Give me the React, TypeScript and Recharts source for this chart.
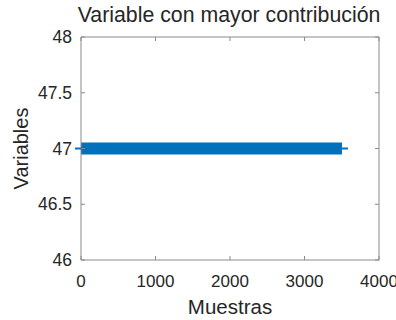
import React from "react";
import { ComposedChart, Line, XAxis, YAxis } from "recharts";

// muestras (índice) y variable con mayor contribución
const samples = [0, 3503];
const variableIdx = [47, 47];

const xTicks = [0, 1000, 2000, 3000, 4000];
const yTicks = [46, 46.5, 47, 47.5, 48];

const TITLE = "Variable con mayor contribución";
const X_LABEL = "Muestras";
const Y_LABEL = "Variables";

const BLUE = "#0072BD";
const TEXT = "#262626";
const AXIS = "#8a8a8a";
const FONT = "'Liberation Sans', Arial, sans-serif";

const data = samples.map((s, i) => ({ x: s, y: variableIdx[i] }));

const BottomTick = (props: any) => {
  const { x, y, payload } = props;
  return (
    <g>
      <line x1={x} y1={y} x2={x} y2={y - 4} stroke={AXIS} />
      <text x={x} y={y + 27} textAnchor="middle" fontSize={17} fill={TEXT} fontFamily={FONT}>
        {payload.value}
      </text>
    </g>
  );
};

const TopTick = (props: any) => {
  const { x, y } = props;
  return <line x1={x} y1={y} x2={x} y2={y + 4} stroke={AXIS} />;
};

const LeftTick = (props: any) => {
  const { x, y, payload } = props;
  return (
    <g>
      <line x1={x} y1={y} x2={x + 4} y2={y} stroke={AXIS} />
      <text x={x - 9} y={y + 6} textAnchor="end" fontSize={17.5} fill={TEXT} fontFamily={FONT}>
        {payload.value}
      </text>
    </g>
  );
};

const RightTick = (props: any) => {
  const { x, y } = props;
  return <line x1={x} y1={y} x2={x - 4} y2={y} stroke={AXIS} />;
};

// marcador '+' en los extremos de la serie
const PlusDot = (props: any) => {
  const { cx, cy } = props;
  return <line x1={cx - 6} y1={cy} x2={cx + 6} y2={cy} stroke={BLUE} strokeWidth={2} />;
};

export default function App() {
  return (
    <div style={{ position: "absolute", left: 0, top: 0, background: "#fff" }}>
      <ComposedChart
        width={396}
        height={320}
        data={data}
        margin={{ top: 36, right: 16, bottom: 0, left: 0 }}
      >
        <XAxis
          dataKey="x"
          type="number"
          domain={[0, 4000]}
          ticks={xTicks}
          interval={0}
          height={60}
          tickSize={0}
          tickMargin={0}
          tick={<BottomTick />}
          axisLine={{ stroke: AXIS }}
          label={{
            content: (p: any) => {
              const vb = p.viewBox;
              return (
                <text x={vb.x + vb.width / 2} y={vb.y + 54} textAnchor="middle" fontSize={20.5} fill={TEXT} fontFamily={FONT}>
                  {X_LABEL}
                </text>
              );
            },
          }}
        />
        <XAxis
          xAxisId="top"
          dataKey="x"
          orientation="top"
          type="number"
          domain={[0, 4000]}
          ticks={xTicks}
          interval={0}
          height={1}
          tickSize={0}
          tickMargin={0}
          tick={<TopTick />}
          axisLine={{ stroke: AXIS }}
          label={{
            content: (p: any) => {
              const vb = p.viewBox;
              return (
                <text x={vb.x + vb.width / 2 - 1} y={22} textAnchor="middle" fontSize={21.3} fill={TEXT} fontFamily={FONT}>
                  {TITLE}
                </text>
              );
            },
          }}
        />
        <YAxis
          type="number"
          domain={[46, 48]}
          ticks={yTicks}
          interval={0}
          width={81}
          tickSize={0}
          tickMargin={0}
          tick={<LeftTick />}
          axisLine={{ stroke: AXIS }}
          label={{
            content: (p: any) => {
              const vb = p.viewBox;
              const cy = vb.y + vb.height / 2;
              return (
                <text x={28} y={cy} transform={`rotate(-90, 28, ${cy})`} textAnchor="middle" fontSize={20} fill={TEXT} fontFamily={FONT}>
                  {Y_LABEL}
                </text>
              );
            },
          }}
        />
        <YAxis
          yAxisId="right"
          orientation="right"
          type="number"
          domain={[46, 48]}
          ticks={yTicks}
          interval={0}
          width={1}
          tickSize={0}
          tickMargin={0}
          tick={<RightTick />}
          axisLine={{ stroke: AXIS }}
        />
        <Line
          dataKey="y"
          stroke={BLUE}
          strokeWidth={12}
          dot={<PlusDot />}
          activeDot={false}
          isAnimationActive={false}
        />
        <Line
          xAxisId="top"
          yAxisId="right"
          dataKey="y"
          stroke="none"
          dot={false}
          activeDot={false}
          legendType="none"
          isAnimationActive={false}
        />
      </ComposedChart>
    </div>
  );
}
